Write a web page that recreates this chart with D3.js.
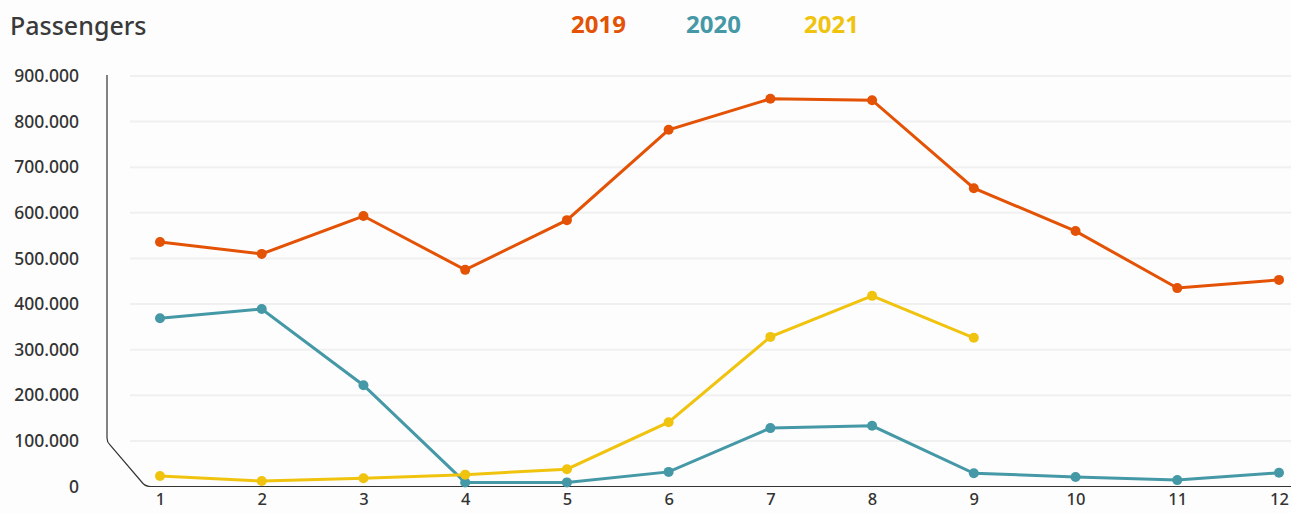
<!DOCTYPE html>
<html>
<head>
<meta charset="utf-8">
<script src="https://cdn.jsdelivr.net/npm/d3@7"></script>
<style>
  body { margin: 0; background: #fdfdfd; }
  svg { display: block; font-family: "Noto Sans", sans-serif; }
</style>
</head>
<body>
<svg id="chart"></svg>
<script>
// month numbers on the x axis
const months = [1, 2, 3, 4, 5, 6, 7, 8, 9, 10, 11, 12];
const yTicks = [0, 100000, 200000, 300000, 400000, 500000, 600000, 700000, 800000, 900000];

// passengers per month
const pax2019 = [536000, 510000, 593000, 475000, 584000, 782000, 850000, 847000, 654000, 560000, 435000, 453000];
const pax2020 = [369000, 389000, 222000, 9000, 9000, 32000, 128000, 133000, 29000, 21000, 14000, 30000];
const pax2021 = [23000, 12000, 18000, 26000, 38000, 141000, 328000, 418000, 326000];

const years = ["2019", "2020", "2021"];
const colors = ["#e35205", "#4598a6", "#f0c30f"];

const width = 1291, height = 513;
const svg = d3.select("#chart").attr("width", width).attr("height", height);

const x = d3.scalePoint().domain(months).range([160, 1279]);
const y = d3.scaleLinear().domain([0, 900000]).range([486.5, 76]);

const fmt = d3.formatLocale({ decimal: ",", thousands: ".", grouping: [3], currency: ["", ""] }).format(",d");

// gridlines
svg.append("g").selectAll("line")
  .data(yTicks.filter(d => d > 0))
  .join("line")
  .attr("x1", 130).attr("x2", width)
  .attr("y1", d => y(d)).attr("y2", d => y(d))
  .attr("stroke", "#f0f0f0")
  .attr("stroke-width", 2);

// y axis labels
const yAxis = svg.append("g").attr("transform", "translate(79,0)")
  .call(d3.axisLeft(y).tickValues(yTicks).tickFormat(fmt).tickSize(0).tickPadding(0));
yAxis.select(".domain").remove();
yAxis.selectAll("text")
  .attr("fill", "#333")
  .style("font-size", "17.5px")
  .style("font-weight", 500)
  .style("font-family", "Noto Sans, sans-serif");

// x axis labels
const xAxis = svg.append("g").attr("transform", `translate(0,${y(0)})`)
  .call(d3.axisBottom(x).tickSize(0).tickPadding(7));
xAxis.select(".domain").remove();
xAxis.selectAll("text")
  .attr("fill", "#333")
  .style("font-size", "16.5px")
  .style("font-weight", 500)
  .style("font-family", "Noto Sans, sans-serif");

// axis frame with the broken corner
const ax = 107, yb = y(0), yc = y(100000);
const p = d3.path();
p.moveTo(ax, y(900000) - 1);
p.lineTo(ax, yc - 3);
p.quadraticCurveTo(ax, yc + 1, ax + 3, yc + 4);
p.lineTo(ax + 36, yb - 3);
p.quadraticCurveTo(ax + 39, yb, ax + 44, yb);
p.lineTo(width, yb);
svg.append("path").attr("d", p.toString())
  .attr("fill", "none").attr("stroke", "#333").attr("stroke-width", 1.2);

// series
const series = [pax2019, pax2020, pax2021];
const line = d3.line().x((d, i) => x(months[i])).y(d => y(d));

series.forEach((vals, k) => {
  const g = svg.append("g");
  g.append("path").datum(vals)
    .attr("d", line)
    .attr("fill", "none")
    .attr("stroke", colors[k])
    .attr("stroke-width", 3);
  g.selectAll("circle").data(vals).join("circle")
    .attr("cx", (d, i) => x(months[i]))
    .attr("cy", d => y(d))
    .attr("r", 5)
    .attr("fill", colors[k]);
});

// title
svg.append("text")
  .attr("x", 10).attr("y", 35)
  .attr("fill", "#3a3a3a")
  .style("font-size", "25px")
  .style("font-weight", 500)
  .text("Passengers");

// legend
const legendX = [571, 686, 804];
svg.append("g").selectAll("text").data(years).join("text")
  .attr("x", (d, i) => legendX[i])
  .attr("y", 33)
  .attr("fill", (d, i) => colors[i])
  .style("font-size", "24px")
  .style("font-weight", 700)
  .text(d => d);
</script>
</body>
</html>
